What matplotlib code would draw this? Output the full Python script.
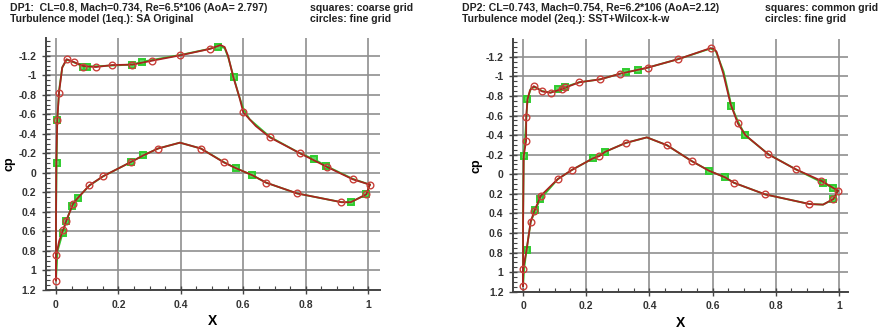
import matplotlib
matplotlib.use("Agg")
import matplotlib.pyplot as plt
from matplotlib.ticker import MultipleLocator, FuncFormatter

plt.rcParams['font.family'] = ['Liberation Sans', 'DejaVu Sans']
plt.rcParams['font.weight'] = 'bold'
plt.rcParams['axes.unicode_minus'] = False

# ---------------- DP1 (left panel) ----------------
dp1_title = "DP1:  CL=0.8, Mach=0.734, Re=6.5*106 (AoA= 2.797)"
dp1_model = "Turbulence model (1eq.): SA Original"
dp1_legend = ["squares: coarse grid", "circles: fine grid"]

# fine grid line (upper surface, from stagnation point to trailing edge)
dp1_fine_up_x = [0.0, 0.0, 0.001, 0.004, 0.0096, 0.02, 0.034, 0.058, 0.087, 0.128, 0.18, 0.245,
                 0.308, 0.398, 0.492, 0.527, 0.54, 0.551, 0.568, 0.587, 0.60, 0.64, 0.685,
                 0.782, 0.869, 0.95, 1.005]
dp1_fine_up_cp = [1.1, 0.5, -0.1, -0.54, -0.82, -1.08, -1.165, -1.135, -1.095, -1.085, -1.105, -1.11,
                  -1.15, -1.205, -1.27, -1.31, -1.29, -1.2, -0.98, -0.78, -0.62, -0.48, -0.364,
                  -0.2, -0.06, 0.065, 0.12]
# fine grid line (lower surface)
dp1_fine_lo_x = [0.0, 0.001, 0.01, 0.023, 0.033, 0.055, 0.069, 0.107, 0.151, 0.239, 0.28, 0.327,
                 0.397, 0.464, 0.538, 0.575, 0.629, 0.673, 0.772, 0.914, 0.944, 0.994, 1.005]
dp1_fine_lo_cp = [1.1, 0.84, 0.7, 0.58, 0.49, 0.315, 0.26, 0.127, 0.034, -0.11, -0.18, -0.25,
                  -0.31, -0.25, -0.107, -0.05, 0.024, 0.1, 0.21, 0.30, 0.30, 0.22, 0.12]
# coarse grid line
dp1_coarse_up_x = [0.0, 0.0, 0.002, 0.004, 0.01, 0.02, 0.034, 0.06, 0.087, 0.10, 0.18, 0.245,
                   0.277, 0.40, 0.49, 0.52, 0.54, 0.552, 0.569, 0.585, 0.60, 0.62, 0.685,
                   0.782, 0.827, 0.866, 0.95, 1.005]
dp1_coarse_up_cp = [1.1, 0.5, -0.097, -0.54, -0.85, -1.08, -1.16, -1.13, -1.09, -1.09, -1.10, -1.11,
                    -1.14, -1.21, -1.27, -1.295, -1.28, -1.18, -0.98, -0.80, -0.66, -0.55, -0.37,
                    -0.2, -0.14, -0.07, 0.06, 0.12]
dp1_coarse_lo_x = [0.0, 0.005, 0.021, 0.033, 0.051, 0.069, 0.107, 0.151, 0.239, 0.28, 0.327, 0.397,
                   0.464, 0.538, 0.575, 0.629, 0.673, 0.772, 0.914, 0.944, 0.994, 1.005]
dp1_coarse_lo_cp = [1.1, 0.8, 0.62, 0.49, 0.34, 0.26, 0.13, 0.035, -0.11, -0.18, -0.25, -0.31,
                    -0.25, -0.11, -0.05, 0.024, 0.1, 0.21, 0.30, 0.30, 0.22, 0.12]
# markers
dp1_circ_x = [0.0096, 0.004, 0.034, 0.058, 0.087, 0.128, 0.18, 0.245, 0.308, 0.398, 0.492, 0.60,
              0.685, 0.782, 0.869, 0.95, 1.005,
              0.0, 0.0, 0.023, 0.033, 0.055, 0.107, 0.151, 0.239, 0.327, 0.464, 0.538, 0.673,
              0.772, 0.914, 0.994]
dp1_circ_cp = [-0.82, -0.54, -1.165, -1.135, -1.09, -1.083, -1.11, -1.11, -1.15, -1.205, -1.27, -0.62,
               -0.364, -0.2, -0.06, 0.065, 0.12,
               1.105, 0.84, 0.58, 0.49, 0.315, 0.127, 0.034, -0.11, -0.25, -0.25, -0.107, 0.1,
               0.21, 0.30, 0.22]
dp1_sq_x = [0.002, 0.004, 0.087, 0.10, 0.245, 0.277, 0.52, 0.569, 0.827, 0.866,
            0.021, 0.033, 0.051, 0.069, 0.239, 0.28, 0.575, 0.629, 0.944, 0.994]
dp1_sq_cp = [-0.097, -0.54, -1.09, -1.09, -1.11, -1.14, -1.295, -0.98, -0.14, -0.07,
             0.62, 0.49, 0.34, 0.26, -0.11, -0.18, -0.05, 0.024, 0.30, 0.22]

# ---------------- DP2 (right panel) ----------------
dp2_title = "DP2: CL=0.743, Mach=0.754, Re=6.2*106 (AoA=2.12)"
dp2_model = "Turbulence model (2eq.): SST+Wilcox-k-w"
dp2_legend = ["squares: common grid", "circles: fine grid"]

dp2_fine_up_x = [0.0, 0.0, 0.002, 0.0095, 0.01, 0.014, 0.022, 0.034, 0.06, 0.087, 0.124, 0.178,
                 0.244, 0.307, 0.395, 0.492, 0.594, 0.605, 0.613, 0.634, 0.657, 0.68, 0.704,
                 0.777, 0.864, 0.944, 0.997]
dp2_fine_up_cp = [1.14, 0.5, -0.186, -0.34, -0.587, -0.765, -0.86, -0.90, -0.847, -0.833, -0.873, -0.94,
                  -0.97, -1.027, -1.09, -1.177, -1.289, -1.28, -1.25, -1.03, -0.72, -0.52, -0.40,
                  -0.203, -0.05, 0.066, 0.168]
dp2_fine_lo_x = [0.0, 0.0, 0.011, 0.024, 0.035, 0.056, 0.11, 0.154, 0.221, 0.242, 0.26, 0.325,
                 0.392, 0.455, 0.534, 0.589, 0.64, 0.668, 0.766, 0.907, 0.95, 0.983, 0.997]
dp2_fine_lo_cp = [1.14, 0.97, 0.775, 0.485, 0.38, 0.22, 0.049, -0.043, -0.162, -0.186, -0.23, -0.32,
                  -0.377, -0.298, -0.135, -0.036, 0.032, 0.087, 0.205, 0.304, 0.31, 0.253, 0.168]
dp2_coarse_up_x = [0.0, 0.0, 0.002, 0.008, 0.014, 0.025, 0.04, 0.06, 0.087, 0.112, 0.134, 0.178,
                   0.244, 0.325, 0.365, 0.395, 0.492, 0.594, 0.61, 0.635, 0.66, 0.682, 0.704,
                   0.777, 0.864, 0.949, 0.983, 0.997]
dp2_coarse_up_cp = [1.14, 0.5, -0.186, -0.45, -0.765, -0.88, -0.89, -0.85, -0.835, -0.867, -0.894, -0.94,
                    -0.97, -1.044, -1.064, -1.09, -1.177, -1.285, -1.26, -1.05, -0.697, -0.53, -0.397,
                    -0.205, -0.05, 0.087, 0.144, 0.168]
dp2_coarse_lo_x = [0.0, 0.004, 0.011, 0.024, 0.039, 0.054, 0.11, 0.154, 0.221, 0.26, 0.325, 0.392,
                   0.455, 0.534, 0.589, 0.64, 0.668, 0.766, 0.907, 0.95, 0.983, 0.997]
dp2_coarse_lo_cp = [1.14, 0.95, 0.775, 0.49, 0.366, 0.256, 0.05, -0.043, -0.162, -0.23, -0.32, -0.377,
                    -0.298, -0.135, -0.036, 0.032, 0.087, 0.205, 0.304, 0.31, 0.253, 0.168]
dp2_circ_x = [0.0095, 0.01, 0.034, 0.06, 0.087, 0.124, 0.134, 0.178, 0.244, 0.307, 0.395, 0.492,
              0.594, 0.68, 0.777, 0.864, 0.944, 0.997,
              0.0, 0.0, 0.024, 0.035, 0.056, 0.11, 0.154, 0.242, 0.325, 0.455, 0.534, 0.668,
              0.766, 0.907, 0.983]
dp2_circ_cp = [-0.34, -0.587, -0.90, -0.847, -0.833, -0.873, -0.894, -0.94, -0.97, -1.027, -1.09, -1.177,
               -1.289, -0.52, -0.203, -0.05, 0.066, 0.168,
               1.14, 0.97, 0.485, 0.38, 0.22, 0.049, -0.043, -0.186, -0.32, -0.298, -0.135, 0.087,
               0.205, 0.304, 0.253]
dp2_sq_x = [0.002, 0.014, 0.112, 0.134, 0.325, 0.365, 0.657, 0.704, 0.949, 0.983,
            0.011, 0.039, 0.054, 0.221, 0.26, 0.589, 0.64, 0.983]
dp2_sq_cp = [-0.186, -0.765, -0.867, -0.894, -1.044, -1.064, -0.697, -0.397, 0.087, 0.144,
             0.775, 0.366, 0.256, -0.162, -0.23, -0.036, 0.032, 0.253]

RED = '#a8231f'
CIRC = '#c9403a'
GREEN = '#2fcc2f'
GRID = '#8f8f8f'

fig = plt.figure(figsize=(8.83, 3.34), dpi=100)


def panel(rect, xlim, ylim, fine_up, fine_lo, coarse_up, coarse_lo, circ, sq):
    ax = fig.add_axes(rect)
    ax.plot(*coarse_up, color=GREEN, lw=1.3, zorder=2)
    ax.plot(*coarse_lo, color=GREEN, lw=1.3, zorder=2)
    ax.plot(*sq, ls='none', marker='s', ms=4.6, mfc='#5fd85f', mec=GREEN, mew=1.4, zorder=3)
    ax.plot(*fine_up, color=RED, lw=1.3, zorder=4)
    ax.plot(*fine_lo, color=RED, lw=1.3, zorder=4)
    ax.plot(*circ, ls='none', marker='o', ms=4.8, mfc='none', mec=CIRC, mew=1.0, zorder=5)

    ax.set_xlim(*xlim)
    ax.set_ylim(*ylim)  # inverted cp axis
    ax.xaxis.set_major_locator(MultipleLocator(0.2))
    ax.xaxis.set_minor_locator(MultipleLocator(0.05))
    ax.yaxis.set_major_locator(MultipleLocator(0.2))
    ax.yaxis.set_minor_locator(MultipleLocator(0.05))
    fmt = FuncFormatter(lambda v, p: '%g' % round(v, 2))
    ax.xaxis.set_major_formatter(fmt)
    ax.yaxis.set_major_formatter(fmt)
    ax.grid(True, which='major', color=GRID, lw=1.2)
    ax.set_axisbelow(True)
    for s in ['top', 'right']:
        ax.spines[s].set_visible(False)
    for s in ['left', 'bottom']:
        ax.spines[s].set_color('#444444')
        ax.spines[s].set_linewidth(1.4)
    ax.tick_params(which='major', direction='inout', length=6, width=1.0, color='#444444',
                   labelsize=7.5, labelcolor='#333333', pad=4)
    ax.tick_params(which='minor', direction='in', length=3, width=0.8, color='#444444')
    ax.set_xlabel('X', fontsize=10, fontweight='bold', labelpad=3)
    ax.set_ylabel('cp', fontsize=9, fontweight='bold', labelpad=2)
    return ax


panel([0.0521, 0.1317, 0.378, 0.755], (-0.032, 1.037), (1.2, -1.384),
      (dp1_fine_up_x, dp1_fine_up_cp), (dp1_fine_lo_x, dp1_fine_lo_cp),
      (dp1_coarse_up_x, dp1_coarse_up_cp), (dp1_coarse_lo_x, dp1_coarse_lo_cp),
      (dp1_circ_x, dp1_circ_cp), (dp1_sq_x, dp1_sq_cp))
panel([0.5813, 0.1266, 0.3794, 0.7554], (-0.031, 1.03), (1.2, -1.378),
      (dp2_fine_up_x, dp2_fine_up_cp), (dp2_fine_lo_x, dp2_fine_lo_cp),
      (dp2_coarse_up_x, dp2_coarse_up_cp), (dp2_coarse_lo_x, dp2_coarse_lo_cp),
      (dp2_circ_x, dp2_circ_cp), (dp2_sq_x, dp2_sq_cp))

txt = dict(fontsize=7.6, fontweight='bold', color='#222222', va='center', ha='left')
fig.text(10 / 883, 1 - 8 / 334, dp1_title, **txt)
fig.text(10 / 883, 1 - 19 / 334, dp1_model, **txt)
fig.text(310 / 883, 1 - 8 / 334, dp1_legend[0], **txt)
fig.text(310 / 883, 1 - 19 / 334, dp1_legend[1], **txt)
fig.text(462 / 883, 1 - 8 / 334, dp2_title, **txt)
fig.text(462 / 883, 1 - 19 / 334, dp2_model, **txt)
fig.text(765 / 883, 1 - 8 / 334, dp2_legend[0], **txt)
fig.text(765 / 883, 1 - 19 / 334, dp2_legend[1], **txt)

fig.savefig('out.png', dpi=100)
